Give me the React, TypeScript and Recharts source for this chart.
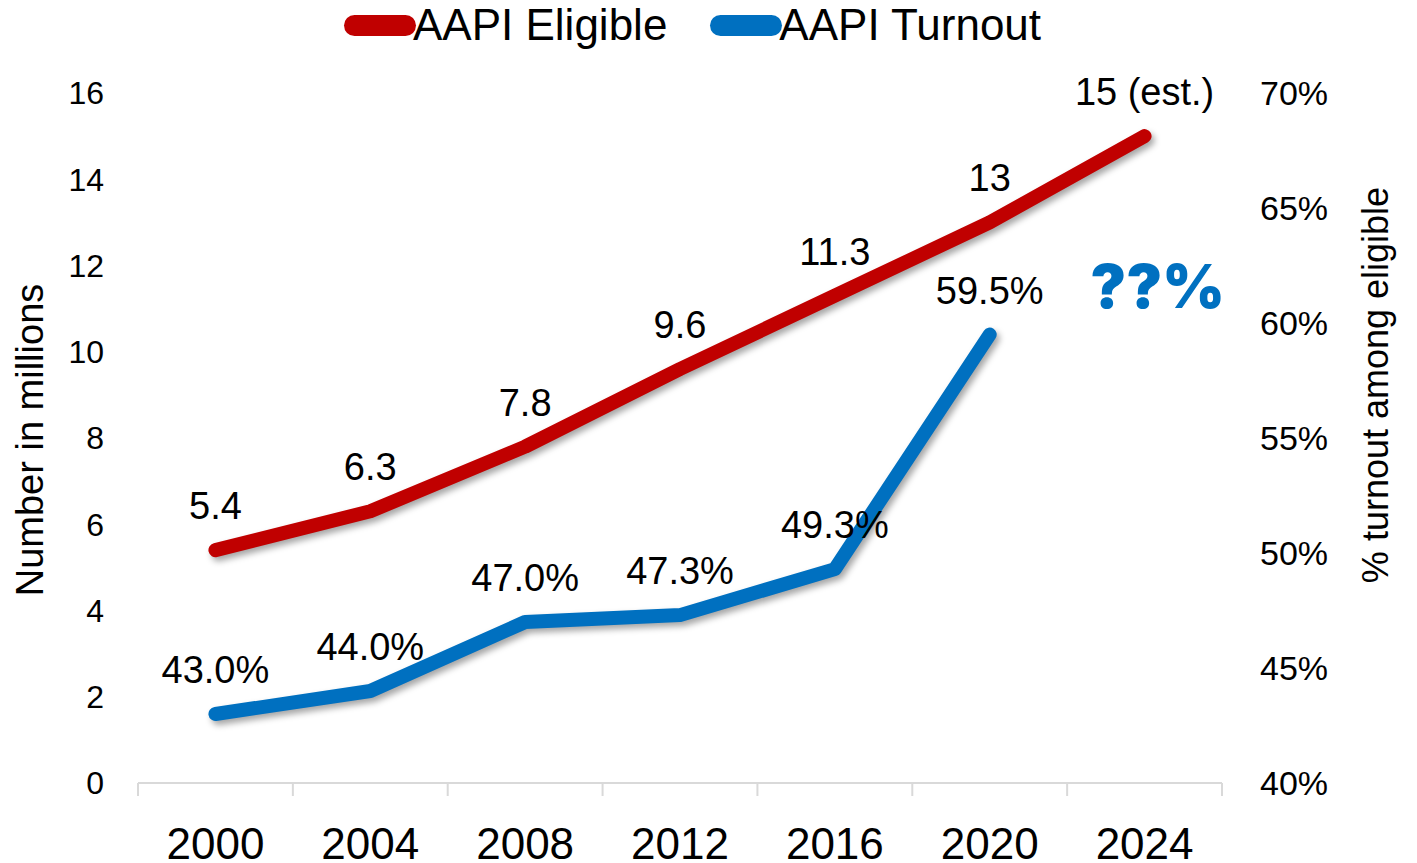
import React from 'react';
import { LineChart, Line, XAxis, YAxis, LabelList, Legend, ReferenceDot } from 'recharts';

// ---------- data ----------
const years = ['2000', '2004', '2008', '2012', '2016', '2020', '2024'];
const eligibleMillions = [5.4, 6.3, 7.8, 9.6, 11.3, 13, 15];
const eligibleLabels = ['5.4', '6.3', '7.8', '9.6', '11.3', '13', '15 (est.)'];
const turnoutPct: (number | null)[] = [43.0, 44.0, 47.0, 47.3, 49.3, 59.5, null];
const leftTicks = [0, 2, 4, 6, 8, 10, 12, 14, 16];
const rightTicks = [40, 45, 50, 55, 60, 65, 70];
const frameTicks = [0, 1, 2, 3, 4, 5, 6, 7];
const unknownTurnout = { year: '2024', value: 61.6, text: '??%' };

const data = years.map((year, i) => ({
  year,
  eligible: eligibleMillions[i],
  eligibleLabel: eligibleLabels[i],
  turnout: turnoutPct[i],
}));

// ---------- styles ----------
const FONT = "'Liberation Sans', Arial, sans-serif";
const RED = '#C00000';
const BLUE = '#0070C0';
const GRID = '#D9D9D9';
const W = 1417;
const H = 863;
const PLOT_W = 1084;
const HALF_BAND = PLOT_W / years.length / 2;

const LegendContent = (props: any) => {
  const payload = props.payload || [];
  return (
    <div style={{ width: W, height: 93, position: 'relative' }}>
      <div style={{ display: 'flex', alignItems: 'center', height: 51, paddingLeft: 344, boxSizing: 'border-box' }}>
        {payload.map((p: any, i: number) => (
          <div key={i} style={{ display: 'flex', alignItems: 'center', marginRight: 43 }}>
            <div style={{ width: 72, height: 21, borderRadius: 10.5, background: p.color }} />
            <span
              style={{
                fontFamily: FONT,
                fontSize: 44,
                lineHeight: '48px',
                marginLeft: -3,
                color: '#000',
                position: 'relative',
                top: -1,
                whiteSpace: 'nowrap',
              }}
            >
              {p.value}
            </span>
          </div>
        ))}
      </div>
    </div>
  );
};

const LeftTitle = (props: any) => {
  const vb = props.viewBox || { x: 0, y: 93, width: 138, height: 690 };
  const cx = vb.x + 30;
  const cy = vb.y + vb.height / 2 + 2;
  return (
    <text
      x={cx}
      y={cy}
      transform={`rotate(-90, ${cx}, ${cy})`}
      textAnchor="middle"
      dominantBaseline="central"
      fontFamily={FONT}
      fontSize={38}
      fill="#000"
    >
      Number in millions
    </text>
  );
};

const RightTitle = (props: any) => {
  const vb = props.viewBox || { x: 1222, y: 93, width: 195, height: 690 };
  const cx = vb.x + 153;
  const cy = vb.y + vb.height / 2 - 53;
  return (
    <text
      x={cx}
      y={cy}
      transform={`rotate(-90, ${cx}, ${cy})`}
      textAnchor="middle"
      dominantBaseline="central"
      fontFamily={FONT}
      fontSize={36}
      fill="#000"
    >
      % turnout among eligible
    </text>
  );
};

export default function App() {
  return (
    <div style={{ position: 'absolute', left: 0, top: 0, width: W, height: H, background: '#fff' }}>
      <style>{`.recharts-line-curve{filter:drop-shadow(3px 4px 3px rgba(0,0,0,0.35));}`}</style>
      <LineChart width={W} height={H} data={data} margin={{ top: 0, right: 0, bottom: 0, left: 0 }}>
        <Legend
          verticalAlign="top"
          align="left"
          content={<LegendContent />}
          wrapperStyle={{ left: 0, top: 0, width: W }}
        />
        <XAxis
          xAxisId="frame"
          type="number"
          dataKey="frameSlot"
          domain={[0, 7]}
          ticks={frameTicks}
          allowDataOverflow
          interval={0}
          height={1}
          tickFormatter={() => ''}
          tickSize={13}
          axisLine={{ stroke: GRID, strokeWidth: 2 }}
          tickLine={{ stroke: GRID, strokeWidth: 2 }}
        />
        <XAxis
          xAxisId="main"
          dataKey="year"
          height={79}
          interval={0}
          padding={{ left: HALF_BAND, right: HALF_BAND }}
          axisLine={false}
          tickLine={false}
          tickSize={0}
          tickMargin={44}
          tick={{ fill: '#000', fontSize: 44, fontFamily: FONT }}
        />
        <YAxis
          yAxisId="left"
          orientation="left"
          width={138}
          domain={[0, 16]}
          ticks={leftTicks}
          interval={0}
          axisLine={false}
          tickLine={false}
          tickSize={0}
          tickMargin={34}
          tick={{ fill: '#000', fontSize: 32, fontFamily: FONT }}
          label={<LeftTitle />}
        />
        <YAxis
          yAxisId="right"
          orientation="right"
          width={195}
          domain={[40, 70]}
          ticks={rightTicks}
          interval={0}
          axisLine={false}
          tickLine={false}
          tickSize={0}
          tickMargin={38}
          tickFormatter={(v: number) => `${v}%`}
          tick={{ fill: '#000', fontSize: 34, fontFamily: FONT }}
          label={<RightTitle />}
        />
        <Line
          xAxisId="main"
          yAxisId="left"
          dataKey="eligible"
          name="AAPI Eligible"
          stroke={RED}
          strokeWidth={14}
          strokeLinecap="round"
          strokeLinejoin="round"
          dot={false}
          activeDot={false}
          isAnimationActive={false}
        >
          <LabelList dataKey="eligibleLabel" position="top" offset={31} fill="#000" fontSize={38} fontFamily={FONT} />
        </Line>
        <Line
          xAxisId="main"
          yAxisId="right"
          dataKey="turnout"
          name="AAPI Turnout"
          stroke={BLUE}
          strokeWidth={14}
          strokeLinecap="round"
          strokeLinejoin="round"
          dot={false}
          activeDot={false}
          isAnimationActive={false}
        >
          <LabelList
            dataKey="turnout"
            position="top"
            offset={31}
            fill="#000"
            fontSize={38}
            fontFamily={FONT}
            formatter={(v: any) => (v === null || v === undefined ? '' : `${Number(v).toFixed(1)}%`)}
          />
        </Line>
        <ReferenceDot
          xAxisId="main"
          yAxisId="right"
          x={unknownTurnout.year}
          y={unknownTurnout.value}
          r={0}
          fill="none"
          stroke="none"
          label={{
            value: unknownTurnout.text,
            position: 'center',
            fill: BLUE,
            fontSize: 60,
            fontWeight: 900,
            fontFamily: "Inter, 'DejaVu Sans', sans-serif",
            dx: 13,
          }}
        />
      </LineChart>
    </div>
  );
}
